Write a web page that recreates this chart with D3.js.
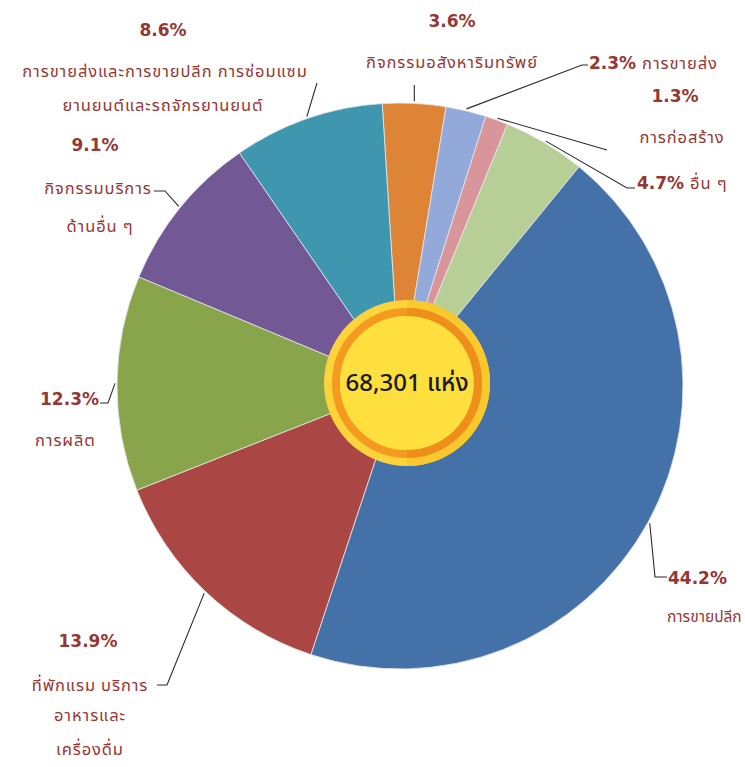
<!DOCTYPE html>
<html><head><meta charset="utf-8">
<script src="https://cdn.jsdelivr.net/npm/d3@7"></script>
<style>
html,body{margin:0;padding:0;background:#fff;}
text{font-family:Tahoma,"Noto Sans Thai","Noto Sans","DejaVu Sans",sans-serif;}
</style></head>
<body>
<svg id="chart" width="745" height="767"></svg>
<script>
// ---- data ----
const categories = [
  "กิจกรรมอสังหาริมทรัพย์",
  "การขายส่ง",
  "การก่อสร้าง",
  "อื่น ๆ",
  "การขายปลีก",
  "ที่พักแรม บริการอาหารและเครื่องดื่ม",
  "การผลิต",
  "กิจกรรมบริการด้านอื่น ๆ",
  "การขายส่งและการขายปลีก การซ่อมแซมยานยนต์และรถจักรยานยนต์"
];
const values = [3.6, 2.3, 1.3, 4.7, 44.2, 13.9, 12.3, 9.1, 8.6];
const pctLabels = ["3.6%", "2.3%", "1.3%", "4.7%", "44.2%", "13.9%", "12.3%", "9.1%", "8.6%"];
const totalLabel = "68,301 แห่ง";
const colors = ["#DE8436", "#92A9D9", "#D8959A", "#B7CE96", "#4471A8", "#AA4643", "#88A54B", "#725995", "#3E96AF"];

// ---- layout ----
const svg = d3.select("#chart");
const cx = 400, cy = 386, R = 283;
const labelColor = "#953735";
const g = svg.append("g").attr("transform", `translate(${cx},${cy})`);

const pie = d3.pie().sort(null).value(d => d)
  .startAngle(-3.6 * Math.PI / 180)
  .endAngle(-3.6 * Math.PI / 180 + 2 * Math.PI);
const arcs = pie(values);
const arc = d3.arc().innerRadius(0).outerRadius(R);

g.selectAll("path.slice").data(arcs).enter().append("path")
  .attr("class", "slice")
  .attr("d", arc)
  .attr("fill", (d, i) => colors[i])
  .attr("stroke", "#e8e8e8").attr("stroke-width", 0.8);

// leader line + label configuration (layout only)
const labelLayout = [
  {pts: [[null, 85]], lines: [{t: [[pctLabels[0], true]], x: 452, y: 22, a: "middle"}, {t: [["กิจกรรมอสังหาริมทรัพย์", false]], x: 452, y: 63, a: "middle"}]},
  {pts: [[582, 65], [588, 65]], lines: [{t: [[pctLabels[1] + " ", true], ["การขายส่ง", false]], x: 589, y: 64, a: "start"}]},
  {pts: [[607, 150]], lines: [{t: [[pctLabels[2], true]], x: 675, y: 97, a: "middle"}, {t: [["การก่อสร้าง", false]], x: 682, y: 138, a: "middle"}]},
  {pts: [[627, 188], [635, 188]], lines: [{t: [[pctLabels[3] + " ", true], ["อื่น ๆ", false]], x: 637, y: 184, a: "start"}]},
  {pts: [[655, 577], [667, 577]], lines: [{t: [[pctLabels[4], true]], x: 668, y: 579, a: "start"}, {t: [["การขายปลีก", false]], x: 667, y: 618, a: "start", ls: 0, fs: 15.5}]},
  {pts: [[167, 685], [157, 685]], lines: [{t: [[pctLabels[5], true]], x: 88, y: 642, a: "middle"}, {t: [["ที่พักแรม บริการ", false]], x: 90, y: 686, a: "middle"}, {t: [["อาหารและ", false]], x: 90, y: 716, a: "middle"}, {t: [["เครื่องดื่ม", false]], x: 90, y: 750, a: "middle"}]},
  {pts: [[108, 403], [100, 403]], lines: [{t: [[pctLabels[6], true]], x: 99, y: 400, a: "end"}, {t: [["การผลิต", false]], x: 35, y: 441, a: "start"}]},
  {pts: [[165, 191], [154, 191]], lines: [{t: [[pctLabels[7], true]], x: 95, y: 146, a: "middle"}, {t: [["กิจกรรมบริการ", false]], x: 98, y: 189, a: "middle"}, {t: [["ด้านอื่น ๆ", false]], x: 100, y: 227, a: "middle"}]},
  {pts: [[317, 83]], lines: [{t: [[pctLabels[8], true]], x: 163, y: 31, a: "middle"}, {t: [["การขายส่งและการขายปลีก การซ่อมแซม", false]], x: 165, y: 72, a: "middle"}, {t: [["ยานยนต์และรถจักรยานยนต์", false]], x: 163, y: 106, a: "middle"}]}
];

const line = d3.line();
arcs.forEach((d, i) => {
  const mid = (d.startAngle + d.endAngle) / 2;
  const ex = cx + Math.sin(mid) * (R + 2), ey = cy - Math.cos(mid) * (R + 2);
  const L = labelLayout[i];
  const pts = [[ex, ey]].concat(L.pts.map(p => [p[0] === null ? ex : p[0], p[1]]));
  svg.append("path").attr("d", line(pts)).attr("fill", "none")
    .attr("stroke", "#2a2a2a").attr("stroke-width", 1.1);
  L.lines.forEach(ln => {
    const t = svg.append("text").attr("x", ln.x).attr("y", ln.y)
      .attr("text-anchor", ln.a).attr("dominant-baseline", "middle")
      .attr("fill", labelColor);
    ln.t.forEach(([s, bold]) => {
      const ts = t.append("tspan").text(s);
      if (bold) {
        ts.attr("font-size", 17).attr("font-weight", "bold")
          .style("font-family", "'DejaVu Sans', sans-serif");
      } else {
        ts.attr("font-size", ln.fs || 16.5).attr("letter-spacing", ln.ls === undefined ? 0.9 : ln.ls);
      }
    });
  });
});

// center badge
const bx = cx + 7, by = cy - 3;
const badge = svg.append("g").attr("transform", `translate(${bx},${by})`);
badge.append("circle").attr("r", 83).attr("fill", "#FDD33C");
badge.append("path").attr("d", d3.arc().innerRadius(0).outerRadius(83).startAngle(0).endAngle(Math.PI)())
  .attr("fill", "#F8C92E");
badge.append("circle").attr("r", 71).attr("fill", "none").attr("stroke", "#F39A1F").attr("stroke-width", 8);
badge.append("circle").attr("r", 67).attr("fill", "#FFDF3E");
badge.append("path").attr("d", d3.arc().innerRadius(67).outerRadius(75).startAngle(0).endAngle(Math.PI)())
  .attr("fill", "#EE8F1B");
badge.append("text").attr("x", 0).attr("y", 1)
  .attr("text-anchor", "middle").attr("dominant-baseline", "middle")
  .attr("font-size", 24).attr("font-weight", 500).attr("fill", "#1a1a1a").text(totalLabel);
</script>
</body></html>
